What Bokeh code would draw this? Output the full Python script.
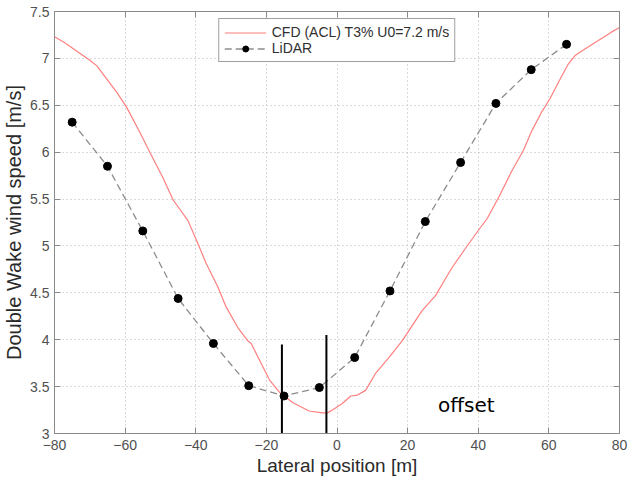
from bokeh.plotting import figure
from bokeh.models import (Range1d, FixedTicker, CustomJSTickFormatter, LinearAxis,
                          Legend, LegendItem, ColumnDataSource)
from bokeh.embed import file_html
from bokeh.resources import INLINE
from bokeh.core.properties import value

# ---- data ----
cfd_x = [-80, -77.2, -70, -68, -62.4, -59.6, -55.8, -53, -49.2, -46.4, -42.2, -39.8, -37.0,
         -33.7, -31.4, -28.1, -25.3, -24.3, -19.1, -16.3, -12.6, -7.9, -4.1, -2.7, -1.3, 1.5,
         3.9, 5.8, 8.1, 10.9, 14.7, 18.5, 21.3, 24.1, 27.9, 30.7, 32.6, 36.3, 40.1, 42.5,
         45.8, 49.5, 52.8, 55.2, 58.0, 60.3, 63.2, 65.5, 67.4, 70.2, 74.0, 77.7, 80]
cfd_y = [7.23, 7.17, 6.98, 6.92, 6.64, 6.48, 6.21, 6.00, 5.72, 5.49, 5.27, 5.06, 4.81,
         4.56, 4.35, 4.13, 3.99, 3.96, 3.57, 3.44, 3.33, 3.24, 3.22, 3.22, 3.25, 3.32,
         3.40, 3.41, 3.46, 3.64, 3.81, 3.99, 4.15, 4.31, 4.47, 4.65, 4.77, 4.97, 5.17, 5.29,
         5.52, 5.80, 6.02, 6.23, 6.43, 6.57, 6.78, 6.94, 7.03, 7.10, 7.19, 7.28, 7.33]

lidar_x = [-75, -65, -55, -45, -35, -25, -15, -5, 5, 15, 25, 35, 45, 55, 65]
lidar_y = [6.32, 5.85, 5.16, 4.44, 3.96, 3.51, 3.40, 3.49, 3.81, 4.52, 5.26, 5.89, 6.52, 6.88, 7.15]

marker_x = [-15.6, -3.0]
marker_top = [3.95, 4.05]
marker_bottom = [3.0, 3.0]

x_ticks = [-80, -60, -40, -20, 0, 20, 40, 60, 80]
y_ticks = [3, 3.5, 4, 4.5, 5, 5.5, 6, 6.5, 7, 7.5]

cfd_label = "CFD (ACL) T3% U0=7.2 m/s"
lidar_label = "LiDAR"
note_text = "offset"

FONT = "Liberation Sans"
AXIS_COL = "#8a8a8a"
TICK_LABEL_COL = "#505050"

p = figure(width=628, height=479, output_backend="svg", toolbar_location=None,
           x_range=Range1d(-80, 80), y_range=Range1d(3, 7.5),
           min_border_left=51, min_border_right=9, min_border_top=11, min_border_bottom=46)
p.background_fill_color = "white"
p.border_fill_color = "white"
p.outline_line_color = AXIS_COL

fmt = CustomJSTickFormatter(code="return tick < 0 ? '\u2212' + Math.abs(tick) : String(tick);")

for ax, ticks in ((p.xaxis[0], x_ticks), (p.yaxis[0], y_ticks)):
    ax.ticker = FixedTicker(ticks=ticks)
    ax.formatter = fmt
    ax.major_tick_in = 6
    ax.major_tick_out = 0
    ax.minor_tick_line_color = None
    ax.axis_line_color = AXIS_COL
    ax.major_tick_line_color = AXIS_COL
    ax.major_label_text_font = FONT
    ax.major_label_text_font_size = "14px"
    ax.major_label_text_color = TICK_LABEL_COL
    ax.axis_label_text_font = FONT
    ax.axis_label_text_font_style = "normal"
    ax.axis_label_text_color = "#2a2a2a"

p.xaxis[0].axis_label = "Lateral position [m]"
p.xaxis[0].axis_label_text_font_size = "19px"
p.xaxis[0].major_label_standoff = 6
p.xaxis[0].axis_label_standoff = 2
p.yaxis[0].axis_label = "Double Wake wind speed [m/s]"
p.yaxis[0].axis_label_text_font_size = "20px"
p.yaxis[0].major_label_standoff = 5
p.yaxis[0].axis_label_standoff = 2

blank = CustomJSTickFormatter(code="return '';")
for side, ticks in (("above", x_ticks), ("right", y_ticks)):
    ax = LinearAxis(ticker=FixedTicker(ticks=ticks), formatter=blank,
                    major_tick_in=6, major_tick_out=0, minor_tick_line_color=None,
                    axis_line_color=AXIS_COL, major_tick_line_color=AXIS_COL,
                    major_label_text_font_size="1px", major_label_standoff=0)
    p.add_layout(ax, side)

for g in (p.xgrid[0], p.ygrid[0]):
    g.grid_line_color = "#b5b5b5"
    g.grid_line_dash = "1 3"
    g.grid_line_width = 1

cfd = p.line(cfd_x, cfd_y, line_color="#ff7f7f", line_width=1.2)
lsrc = ColumnDataSource(dict(x=lidar_x, y=lidar_y))
lline = p.line("x", "y", source=lsrc, line_color="#8c8c8c", line_width=1.3, line_dash="7 4")
lpts = p.scatter("x", "y", source=lsrc, marker="circle", size=8, fill_color="black",
                 line_color="black")

p.segment(x0=marker_x, y0=marker_bottom, x1=marker_x, y1=marker_top,
          line_color="black", line_width=2)

p.text(x=[28.6], y=[3.30], text=[note_text], text_font=value("DejaVu Sans"),
       text_font_size="20px", text_color="black", text_baseline="alphabetic",
       text_align="left")

legend = Legend(items=[LegendItem(label=cfd_label, renderers=[cfd]),
                       LegendItem(label=lidar_label, renderers=[lline, lpts])],
                location="top_center", margin=7, padding=5, spacing=0,
                glyph_width=42, glyph_height=15, label_height=15, label_standoff=6,
                label_text_font=FONT, label_text_font_size="14px",
                label_text_color="#303030", border_line_color="#404040",
                border_line_width=1, background_fill_color="white",
                background_fill_alpha=1)
p.add_layout(legend)

open("out.html", "w").write(file_html(p, INLINE))
